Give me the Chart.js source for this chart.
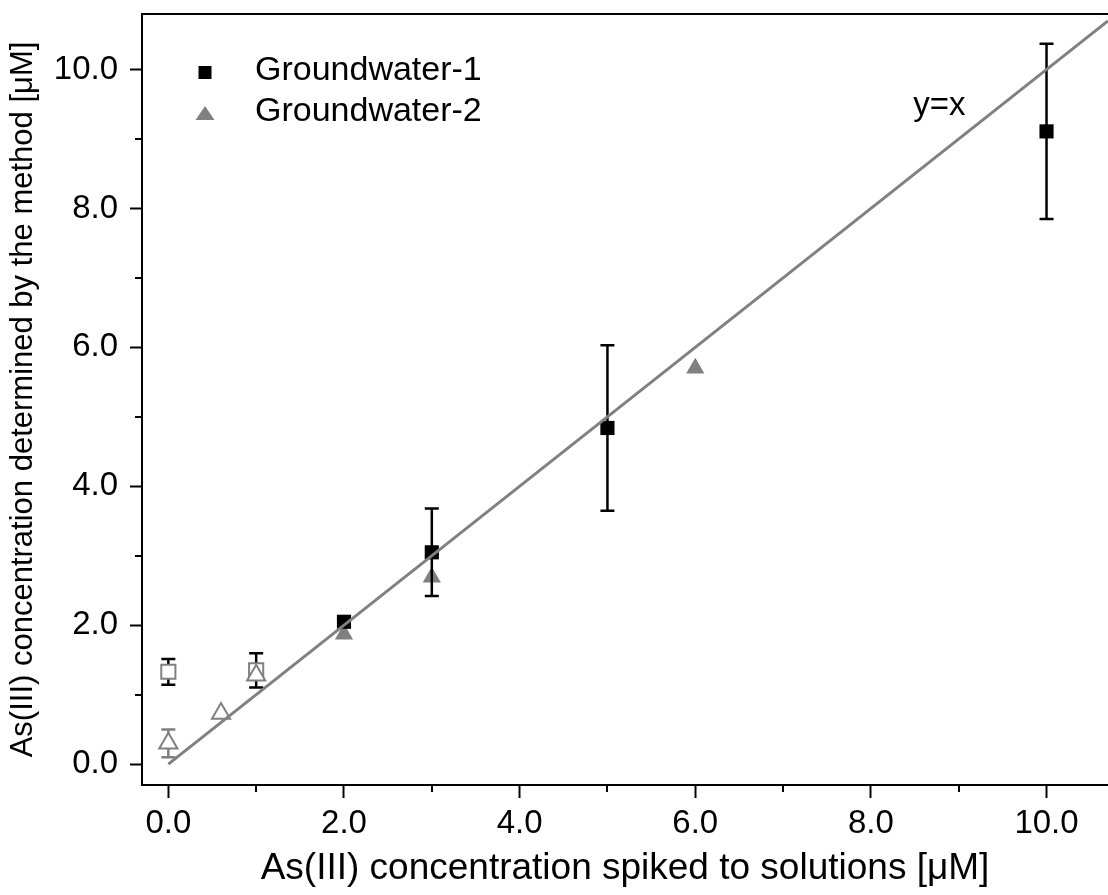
<!DOCTYPE html>
<html>
<head>
<meta charset="utf-8">
<script src="https://cdn.jsdelivr.net/npm/chart.js@4.4.1/dist/chart.umd.min.js"></script>
<style>
html,body{margin:0;padding:0;background:#fff;overflow:hidden}
#wrap{width:1108px;height:895px;position:relative}
</style>
</head>
<body>
<div id="wrap"><canvas id="c" width="1108" height="895"></canvas></div>
<script>
// ---------------- data ----------------
const gw1X = [2, 3, 5, 10];
const gw1Y = [2.05, 3.05, 4.84, 9.11];
const gw1Err = [0.05, 0.63, 1.19, 1.26];

const gw2X = [2, 3, 6];
const gw2Y = [1.87, 2.69, 5.70];

const gw1LowX = [0, 1];
const gw1LowY = [1.33, 1.35];
const gw1LowErr = [0.185, 0.245];

const gw2LowX = [0, 0.6, 1];
const gw2LowY = [0.30, 0.73, 1.28];
const gw2LowErr = [0.20, 0, 0];

const refLineX = [0, 10.7];
const refLineY = [0, 10.7];

const majorTicks = [0, 2, 4, 6, 8, 10];
const minorTicks = [1, 3, 5, 7, 9];

const seriesNames = ['Groundwater-1', 'Groundwater-2'];
const xTitle = 'As(III) concentration spiked to solutions [\u03bcM]';
const yTitle = 'As(III) concentration determined by the method [\u03bcM]';
const lineLabel = 'y=x';
const lineLabelX = 8.78;
const lineLabelY = 9.34;

// ---------------- styling ----------------
const FONT = "'Liberation Sans', Arial, Helvetica, sans-serif";
const GRAY = '#808080';
Chart.defaults.font.family = FONT;
Chart.defaults.color = '#000';

const pts = (xs, ys) => xs.map((x, i) => ({x: x, y: ys[i]}));

// error bars, drawn under each dataset's markers
const errorBars = {
  id: 'errorBars',
  beforeDatasetDraw(chart, args) {
    const ds = chart.data.datasets[args.index];
    if (!ds.errors) return;
    const {ctx, chartArea} = chart;
    const xs = chart.scales.x, ys = chart.scales.y;
    ctx.save();
    ctx.beginPath();
    ctx.rect(chartArea.left, chartArea.top, chartArea.right - chartArea.left, chartArea.bottom - chartArea.top);
    ctx.clip();
    ctx.strokeStyle = ds.errorColor || '#000';
    ctx.lineWidth = 2.5;
    ds.data.forEach((p, i) => {
      const e = ds.errors[i];
      if (!e) return;
      const px = xs.getPixelForValue(p.x);
      const hi = ys.getPixelForValue(p.y + e);
      const lo = ys.getPixelForValue(p.y - e);
      ctx.beginPath();
      ctx.moveTo(px, hi); ctx.lineTo(px, lo);
      ctx.moveTo(px - 7, hi); ctx.lineTo(px + 7, hi);
      ctx.moveTo(px - 7, lo); ctx.lineTo(px + 7, lo);
      ctx.stroke();
    });
    ctx.restore();
  }
};

// frame top line, minor ticks, legend, y=x label
const decor = {
  id: 'decor',
  afterDraw(chart) {
    const {ctx, chartArea} = chart;
    const xs = chart.scales.x, ys = chart.scales.y;
    ctx.save();
    ctx.strokeStyle = '#000';
    ctx.lineWidth = 2;
    ctx.beginPath();
    ctx.moveTo(chartArea.left - 1, chartArea.top);
    ctx.lineTo(chartArea.right, chartArea.top);
    ctx.stroke();
    // minor ticks
    ctx.beginPath();
    minorTicks.forEach(v => {
      const px = Math.round(xs.getPixelForValue(v));
      ctx.moveTo(px, chartArea.bottom); ctx.lineTo(px, chartArea.bottom + 7);
      const py = Math.round(ys.getPixelForValue(v));
      ctx.moveTo(chartArea.left, py); ctx.lineTo(chartArea.left - 7, py);
    });
    ctx.stroke();

    // y=x label
    ctx.fillStyle = '#000';
    ctx.font = '33px ' + FONT;
    ctx.textAlign = 'center';
    ctx.textBaseline = 'alphabetic';
    ctx.fillText(lineLabel, xs.getPixelForValue(lineLabelX), ys.getPixelForValue(lineLabelY));

    // legend
    const lx = chartArea.left + 63;
    const rows = [chartArea.top + 65, chartArea.top + 106]; // baselines
    ctx.font = '34px ' + FONT;
    ctx.textAlign = 'left';
    [0, 1].forEach(k => {
      const ds = chart.data.datasets.find(d => d.label === seriesNames[k]);
      const base = rows[k];
      ctx.fillStyle = ds.backgroundColor;
      ctx.beginPath();
      if (ds.pointStyle === 'rect') {
        ctx.rect(lx - 6.5, base - 13, 13, 13);
      } else {
        ctx.moveTo(lx, base - 14);
        ctx.lineTo(lx + 9.5, base);
        ctx.lineTo(lx - 9.5, base);
        ctx.closePath();
      }
      ctx.fill();
      ctx.fillStyle = '#000';
      ctx.fillText(ds.label, lx + 50, base + 1);
    });
    ctx.restore();
  }
};

const chart = new Chart(document.getElementById('c'), {
  type: 'scatter',
  data: {
    datasets: [
      {
        label: 'y=x line', type: 'line', data: pts(refLineX, refLineY),
        showLine: true, borderColor: GRAY, borderWidth: 3, pointRadius: 0,
        fill: false, order: 0
      },
      {
        label: seriesNames[0], data: pts(gw1X, gw1Y), errors: gw1Err, errorColor: '#000',
        pointStyle: 'rect', pointRadius: 10, backgroundColor: '#000', borderColor: '#000',
        borderWidth: 0, order: 1
      },
      {
        label: seriesNames[1], data: pts(gw2X, gw2Y),
        pointStyle: 'triangle', pointRadius: 10.5, backgroundColor: GRAY, borderColor: GRAY,
        borderWidth: 0, order: 2
      },
      {
        label: seriesNames[1] + ' (low)', data: pts(gw2LowX, gw2LowY), errors: gw2LowErr, errorColor: GRAY,
        pointStyle: 'triangle', pointRadius: 10.5, backgroundColor: '#fff', borderColor: GRAY,
        borderWidth: 2, order: 3
      },
      {
        label: seriesNames[0] + ' (low)', data: pts(gw1LowX, gw1LowY), errors: gw1LowErr, errorColor: '#000',
        pointStyle: 'rect', pointRadius: 10, backgroundColor: '#fff', borderColor: GRAY,
        borderWidth: 2, order: 4
      }
    ]
  },
  options: {
    responsive: false,
    animation: false,
    devicePixelRatio: 1,
    layout: {autoPadding: false, padding: {top: 14, right: 0, left: 0, bottom: 0}},
    plugins: {legend: {display: false}, tooltip: {enabled: false}},
    scales: {
      x: {
        type: 'linear', min: -0.3, max: 10.7,
        afterFit(s) { s.height = 110; s.paddingLeft = 0; s.paddingRight = 0; },
        afterBuildTicks(s) { s.ticks = majorTicks.map(v => ({value: v})); },
        ticks: {
          callback: v => Number(v).toFixed(1),
          font: {size: 33}, color: '#000', padding: 6, maxRotation: 0, autoSkip: false
        },
        grid: {drawOnChartArea: false, drawTicks: true, tickLength: 13, tickWidth: 2, tickColor: '#000'},
        border: {display: true, color: '#000', width: 2},
        title: {display: true, text: xTitle, font: {size: 37}, color: '#000', padding: {top: 0, bottom: 4}}
      },
      y: {
        type: 'linear', min: -0.3, max: 10.8,
        afterFit(s) { s.width = 142; s.paddingTop = 0; s.paddingBottom = 0; },
        afterBuildTicks(s) { s.ticks = majorTicks.map(v => ({value: v})); },
        ticks: {
          callback: v => Number(v).toFixed(1),
          font: {size: 33}, color: '#000', padding: 12, autoSkip: false
        },
        grid: {drawOnChartArea: false, drawTicks: true, tickLength: 12, tickWidth: 2, tickColor: '#000'},
        border: {display: true, color: '#000', width: 2},
        title: {display: true, text: yTitle, font: {size: 31}, color: '#000', padding: {top: 5, bottom: 0}}
      }
    }
  },
  plugins: [errorBars, decor]
});
</script>
</body>
</html>
